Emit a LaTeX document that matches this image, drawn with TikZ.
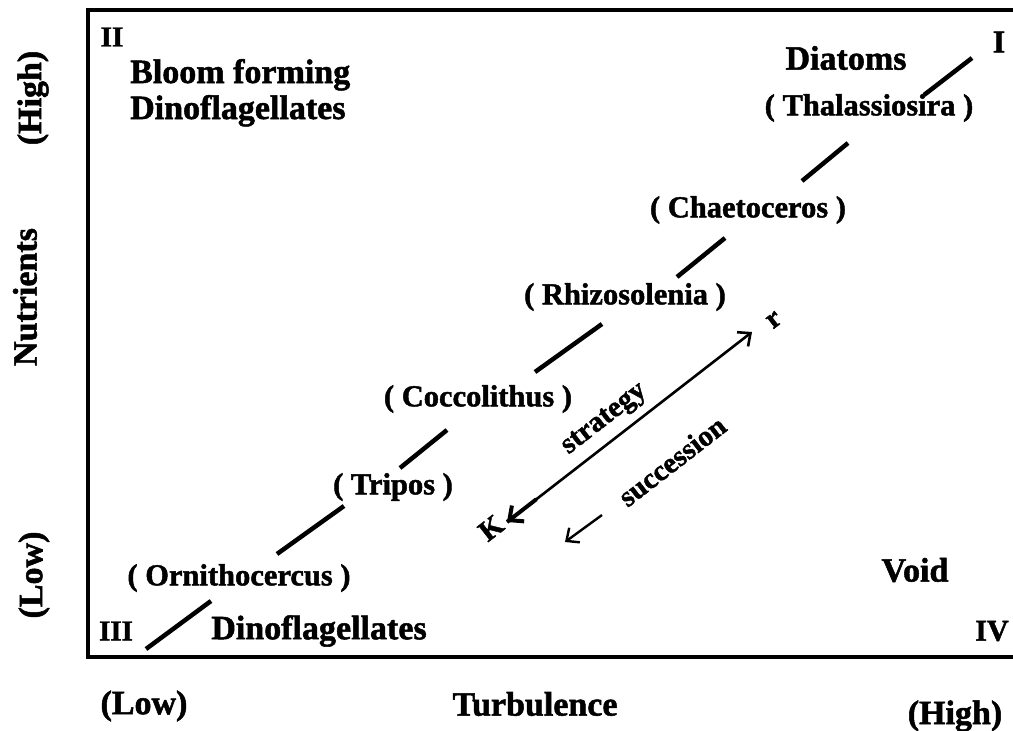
\documentclass[tikz,border=0pt]{standalone}
\usepackage{fontspec}
\setmainfont{Liberation Serif}[BoldFeatures={FakeBold=1.5}]
\usetikzlibrary{arrows.meta,calc}
\tikzset{
  lab/.style={font=\fontsize{34}{36}\selectfont\bfseries, inner sep=0pt},
  sp/.style={font=\fontsize{30.5}{34}\selectfont\bfseries, inner sep=0pt},
  num/.style={font=\fontsize{29}{34}\selectfont\bfseries, inner sep=0pt},
  rot/.style={font=\fontsize{29}{34}\selectfont\bfseries, inner sep=0pt, rotate=37.8},
  seg/.style={line width=4.5pt, line cap=butt},
  frame/.style={line width=4pt},
}
\begin{document}
\begin{tikzpicture}[x=1pt,y=-1pt]
\useasboundingbox (0,0) rectangle (1013,731);
% frame
\draw[frame] (1013,10) -- (88,10) -- (88,657) -- (1013,657);

% quadrant numerals
\node[num] (q2) at (112,37) {II};
\node[num, font=\fontsize{32}{36}\selectfont\bfseries] (q1) at (999,42) {I};
\node[num] (q3) at (116,631) {III};
\node[num, font=\fontsize{30}{34}\selectfont\bfseries] (q4) at (992,631) {IV};

% group labels
\node[lab, anchor=base west, align=left] (bloom) at (130,119) {Bloom forming\\Dinoflagellates};
\node[lab] (diat) at (846,58) {Diatoms};
\node[lab] (dino) at (319,631) {Dinoflagellates};
\node[lab] (void) at (915,570) {Void};

% species
\node[sp] (thal) at (869,108) {( Thalassiosira )};
\node[sp] (chae) at (748,210) {( Chaetoceros )};
\node[sp] (rhiz) at (625,297) {( Rhizosolenia )};
\node[sp] (cocc) at (478,399) {( Coccolithus )};
\node[sp] (trip) at (393,487) {( Tripos )};
\node[sp] (orni) at (239,578) {( Ornithocercus )};

% diagonal broken line
\draw[seg] (146,649) -- (211,601);
\draw[seg] (277,554) -- (344,506);
\draw[seg] (400,468) -- (447,430);
\draw[seg] (535,372) -- (602,324);
\draw[seg] (677,277) -- (725,238);
\draw[seg] (802,181) -- (848,143);
\draw[seg] (924,95) -- (972,58);

% strategy arrow
\node[rot] (K) at (491,528) {K};
\node[rot] (r) at (774,320) {r};
\coordinate (kend) at (507,522);
\coordinate (rend) at (752,332);
\draw[line width=2.6pt, {Straight Barb[length=11pt,width=20pt,line width=4pt]}-{Straight Barb[length=10pt,width=18pt]}] (kend) -- (rend);
\draw[line width=4pt] (kend) -- ($(kend)!0.12!(rend)$);
\node[rot] (strat) at (605,420) {strategy};
\node[rot] (succ) at (672,461) {succession};
\coordinate (sa) at (602,515);
\coordinate (sb) at (565,542);
\draw[line width=2.4pt, -{Straight Barb[length=10pt,width=18pt]}] (sa) -- (sb);

% axes
\node[lab] (turb) at (535,704) {Turbulence};
\node[lab] (xlow) at (144,706) {(Low)};
\node[lab] (xhigh) at (955,716) {(High)};
\node[lab, rotate=90] (nutr) at (25,297) {Nutrients};
\node[lab, rotate=90] (ylow) at (34,575) {(Low)};
\node[lab, rotate=90] (yhigh) at (33,98) {(High)};
\end{tikzpicture}
\end{document}
